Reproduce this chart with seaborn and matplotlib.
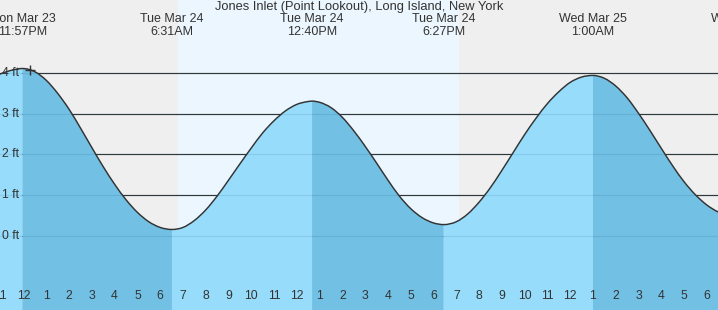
import numpy as np
import matplotlib
matplotlib.use("Agg")
import matplotlib.pyplot as plt
import matplotlib.transforms as mtransforms
from matplotlib.path import Path
from matplotlib.patches import PathPatch
import seaborn as sns

# ---------------- data (hours from Tue Mar 24 00:00) ----------------
title = "Jones Inlet (Point Lookout), Long Island, New York"

hours = [-1.5, -1.0, -0.5, -0.05, 0.5, 1.0, 1.5, 2.0, 2.5, 3.0, 3.5, 4.0,
         4.5, 5.0, 5.5, 6.0, 6.517, 7.0, 7.5, 8.0, 8.5, 9.0, 9.5, 10.0,
         10.5, 11.0, 11.5, 12.0, 12.5, 12.667, 13.0, 13.5, 14.0, 14.5, 15.0,
         15.5, 16.0, 16.5, 17.0, 17.5, 18.0, 18.45, 19.0, 19.5, 20.0,
         20.5, 21.0, 21.5, 22.0, 22.5, 23.0, 23.5, 24.0, 24.5, 25.0, 25.5,
         26.0, 26.5, 27.0, 27.5, 28.0, 28.5, 29.0, 29.5, 30.0, 30.5, 31.0]
heights = [3.85, 3.98, 4.07, 4.11, 4.03, 3.82, 3.50, 3.11, 2.65, 2.17,
           1.70, 1.27, 0.89, 0.58, 0.35, 0.21, 0.16, 0.21, 0.38, 0.64,
           0.98, 1.37, 1.77, 2.16, 2.53, 2.83, 3.07, 3.23, 3.30, 3.31, 3.28,
           3.15, 2.91, 2.58, 2.20, 1.79, 1.37, 0.98, 0.67, 0.45, 0.32, 0.28,
           0.35, 0.54, 0.83, 1.19, 1.61, 2.05, 2.49, 2.89, 3.25, 3.54,
           3.77, 3.90, 3.94, 3.87, 3.68, 3.39, 3.01, 2.59, 2.15, 1.72, 1.33,
           1.01, 0.76, 0.59, 0.51]

event_hours = [-0.05, 6.517, 12.667, 18.45, 25.0, 31.66]
event_kinds = ["high", "low", "high", "low", "high", "low"]
event_days = ["Mon Mar 23", "Tue Mar 24", "Tue Mar 24", "Tue Mar 24",
              "Wed Mar 25", "Wed Mar 25"]
event_times = ["11:57PM", "6:31AM", "12:40PM", "6:27PM", "1:00AM", "7:40AM"]

sunrise, sunset = 6.78, 19.12
now_hour, now_height = 0.28, 4.07
grid_levels = [0, 1, 2, 3, 4]
grid_labels = ["0 ft", "1 ft", "2 ft", "3 ft", "4 ft"]
hour_ticks = list(range(-1, 31))

# ---------------- style ----------------
sns.set_theme(style="white")
plt.rcParams['font.family'] = ['Liberation Sans', 'DejaVu Sans']
TXT = "#333333"
NIGHT = "#efefef"
DAY = "#ebf6fe"
RISE = "#97dcfb"
FALL = "#72c0e4"

fig = plt.figure(figsize=(7.18, 3.10), dpi=100)
ax = fig.add_axes([0, 0, 1, 1])
ax.set_facecolor(NIGHT)
for s in ax.spines.values():
    s.set_visible(False)

x_lo, x_hi = -1.032, 30.488
y_lo, y_hi = -1.816, 5.791
ax.set_xlim(x_lo, x_hi)
ax.set_ylim(y_lo, y_hi)

ax.axvspan(sunrise, sunset, color=DAY, zorder=0.5, lw=0)

for lv in grid_levels:
    ax.axhline(lv, color=TXT, lw=0.85, zorder=1)

t = np.array(hours, dtype=float)
h = np.array(heights, dtype=float)
slope = np.gradient(h, t)
for eh in event_hours:
    slope[np.isclose(t, eh)] = 0.0


def smooth_path(ts, hs, ms):
    verts = [(ts[0], hs[0])]
    codes = [Path.MOVETO]
    for i in range(len(ts) - 1):
        dt = ts[i + 1] - ts[i]
        verts += [(ts[i] + dt / 3, hs[i] + ms[i] * dt / 3),
                  (ts[i + 1] - dt / 3, hs[i + 1] - ms[i + 1] * dt / 3),
                  (ts[i + 1], hs[i + 1])]
        codes += [Path.CURVE4] * 3
    return verts, codes


bounds = [-np.inf] + event_hours + [np.inf]
for i in range(len(bounds) - 1):
    a, b = bounds[i], bounds[i + 1]
    m = (t >= a - 1e-9) & (t <= b + 1e-9)
    if m.sum() < 2:
        continue
    kind_end = event_kinds[i] if i < len(event_kinds) else (
        "low" if event_kinds[-1] == "high" else "high")
    col = RISE if kind_end == "high" else FALL
    ts, hs, ms = t[m], h[m], slope[m]
    verts, codes = smooth_path(ts, hs, ms)
    verts += [(ts[-1], y_lo - 1), (ts[0], y_lo - 1), (ts[0], hs[0])]
    codes += [Path.LINETO, Path.LINETO, Path.CLOSEPOLY]
    ax.add_patch(PathPatch(Path(verts, codes), facecolor=col, lw=0,
                           edgecolor="none", zorder=2))

for lv in grid_levels:
    ax.axhline(lv, color="#1a5a85", alpha=0.13, lw=0.85, zorder=3)

verts, codes = smooth_path(t, h, slope)
ax.add_patch(PathPatch(Path(verts, codes), facecolor="none", edgecolor=TXT,
                       lw=1.05, zorder=4, capstyle="round", joinstyle="round"))

sns.scatterplot(x=[now_hour], y=[now_height], ax=ax, marker="+", s=60,
                color=TXT, linewidth=1.0, zorder=5, legend=False)

ybl = mtransforms.blended_transform_factory(ax.transAxes, ax.transData)
for lv, lab in zip(grid_levels, grid_labels):
    ax.text(0.003, lv, lab, transform=ybl, ha="left", va="center",
            fontsize=8.8, color=TXT, zorder=6)

xbl = mtransforms.blended_transform_factory(ax.transData, ax.transAxes)
ax.text(0.5, 1 - 7 / 310, title, transform=ax.transAxes, ha="center",
        va="center", fontsize=9.3, color=TXT)
for eh, d, tm in zip(event_hours, event_days, event_times):
    ax.text(eh, 1 - 19 / 310, d, transform=xbl, ha="center", va="center",
            fontsize=9, color=TXT)
    ax.text(eh, 1 - 32 / 310, tm, transform=xbl, ha="center", va="center",
            fontsize=9, color=TXT)

ax.set_yticks([])
ax.set_xticks(hour_ticks)
ax.set_xticklabels([])
ax.tick_params(axis="x", direction="in", length=5.8, width=0.75, color=TXT,
               bottom=True, labelbottom=False, pad=0)
for hr, tk in zip(hour_ticks, ax.xaxis.get_major_ticks()):
    if hr % 24 == 0:
        tk.tick1line.set_markeredgewidth(2.3)
    tk.tick1line.set_zorder(6)
for hr in hour_ticks:
    lab = str(hr % 12 or 12)
    ax.text(hr, 14 / 310, lab, transform=xbl, ha="center", va="center",
            fontsize=8.8, color=TXT, zorder=6)

ax.set_xlabel("")
ax.set_ylabel("")
fig.savefig("out.png", dpi=100)
